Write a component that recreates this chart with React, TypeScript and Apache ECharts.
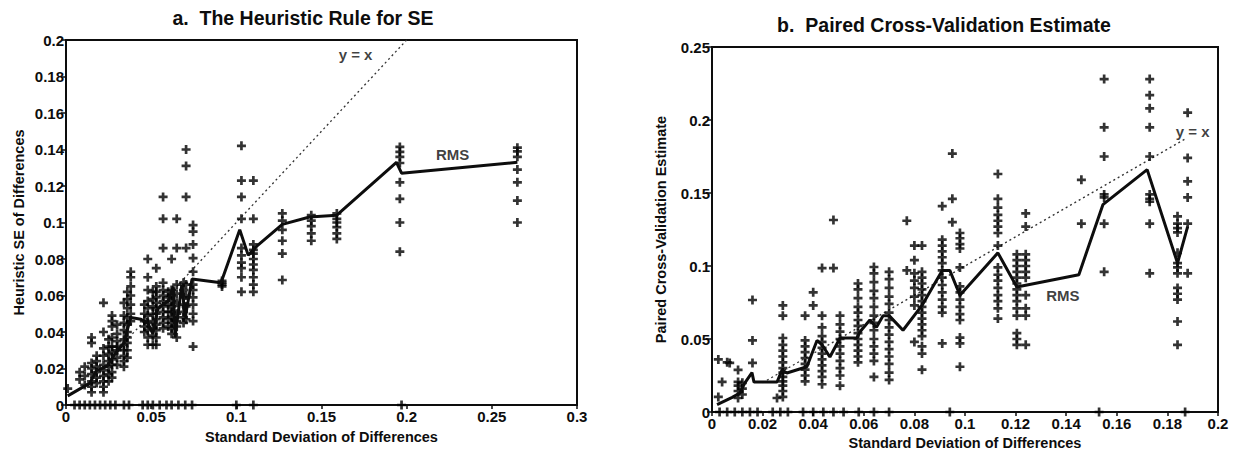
import React, { useEffect, useRef } from 'react';
import * as echarts from 'echarts';

// ---------- Panel a: The Heuristic Rule for SE ----------
const heuristicColumns: Array<[number, number[]]> = [
  [0.001, [0.009]],
  [0.008, [0.018, 0.014]],
  [0.011, [0.021, 0.016, 0.011]],
  [0.015, [0.037, 0.034, 0.023, 0.020, 0.017, 0.013, 0.010, 0.007]],
  [0.018, [0.027, 0.024, 0.021, 0.018, 0.015, 0.012]],
  [0.022, [0.056, 0.040, 0.031, 0.027, 0.022, 0.019, 0.016, 0.013, 0.010, 0.007]],
  [0.025, [0.036, 0.032, 0.028, 0.024, 0.021, 0.017, 0.013]],
  [0.027, [0.049, 0.046, 0.043, 0.037, 0.032, 0.029, 0.025, 0.022, 0.018, 0.015]],
  [0.030, [0.044, 0.039, 0.035, 0.032, 0.030, 0.026, 0.022]],
  [0.034, [0.056, 0.049, 0.045, 0.041, 0.036, 0.033, 0.030, 0.027, 0.024, 0.021]],
  [0.036, [0.062, 0.058, 0.053, 0.048, 0.044, 0.040, 0.037, 0.034, 0.030, 0.026]],
  [0.038, [0.073, 0.070, 0.065, 0.060, 0.055, 0.050, 0.046]],
  [0.046, [0.055, 0.050, 0.046, 0.043, 0.040]],
  [0.048, [0.080, 0.070, 0.063, 0.057, 0.053, 0.049, 0.045, 0.041, 0.037, 0.033]],
  [0.051, [0.062, 0.058, 0.054, 0.050, 0.046, 0.042, 0.038, 0.033]],
  [0.053, [0.075, 0.065, 0.062, 0.059, 0.056, 0.053, 0.050, 0.047, 0.044, 0.041, 0.037, 0.033]],
  [0.057, [0.114, 0.102, 0.086, 0.067, 0.063, 0.060, 0.057, 0.054, 0.051, 0.048, 0.045, 0.042]],
  [0.060, [0.062, 0.059, 0.055, 0.051, 0.047, 0.043]],
  [0.062, [0.080, 0.063, 0.060, 0.057, 0.054, 0.051, 0.048, 0.045, 0.042, 0.039]],
  [0.065, [0.102, 0.086, 0.066, 0.061, 0.056, 0.050, 0.046, 0.043, 0.037]],
  [0.069, [0.067, 0.063, 0.059, 0.055, 0.051, 0.048, 0.045]],
  [0.0705, [0.140, 0.131, 0.114, 0.086, 0.066, 0.060, 0.054, 0.047]],
  [0.0746, [0.0986, 0.095, 0.088, 0.0805, 0.073, 0.066, 0.063, 0.059, 0.055, 0.050, 0.046, 0.032]],
  [0.0916, [0.068, 0.067, 0.066, 0.065]],
  [0.103, [0.142, 0.123, 0.114, 0.102, 0.086, 0.082, 0.078, 0.075, 0.070, 0.062]],
  [0.110, [0.123, 0.102, 0.088, 0.085, 0.083, 0.080, 0.077, 0.074, 0.070, 0.066, 0.062]],
  [0.127, [0.105, 0.101, 0.096, 0.090, 0.083, 0.0685]],
  [0.144, [0.104, 0.101, 0.098, 0.094, 0.090]],
  [0.159, [0.105, 0.102, 0.100, 0.0975, 0.094, 0.091]],
  [0.196, [0.1414, 0.1387, 0.136, 0.1326, 0.122, 0.113, 0.100, 0.084]],
  [0.265, [0.141, 0.139, 0.136, 0.129, 0.122, 0.112, 0.100]],
];
const heuristicZeroX = [0.005, 0.008, 0.011, 0.014, 0.017, 0.020, 0.023, 0.026, 0.029, 0.034, 0.037,
  0.045, 0.048, 0.051, 0.055, 0.059, 0.062, 0.066, 0.070, 0.074, 0.100, 0.110, 0.197];
const heuristicRms: Array<[number, number]> = [
  [0.001, 0.005], [0.014, 0.012], [0.018, 0.019], [0.024, 0.021], [0.028, 0.027], [0.034, 0.034],
  [0.038, 0.048], [0.044, 0.047], [0.048, 0.045], [0.051, 0.039], [0.054, 0.053], [0.060, 0.057],
  [0.063, 0.065], [0.064, 0.037], [0.068, 0.066], [0.070, 0.048], [0.074, 0.069], [0.091, 0.067],
  [0.102, 0.096], [0.107, 0.082], [0.112, 0.087], [0.127, 0.099], [0.143, 0.103], [0.159, 0.104],
  [0.194, 0.133], [0.197, 0.127], [0.265, 0.133],
];
const heuristicDiagonal: Array<[number, number]> = [[0.033, 0.033], [0.2, 0.2]];
const heuristicLabels = [
  { name: 'y = x', value: [0.170, 0.192] },
  { name: 'RMS', value: [0.227, 0.1375] },
];

// ---------- Panel b: Paired Cross-Validation Estimate ----------
const pairedColumns: Array<[number, number[]]> = [
  [0.0025, [0.036, 0.0103]],
  [0.004, [0.0206]],
  [0.006, [0.034]],
  [0.007, [0.0336]],
  [0.0103, [0.0288, 0.0206, 0.018, 0.0144, 0.0096]],
  [0.012, [0.020, 0.016, 0.012]],
  [0.016, [0.0767, 0.049, 0.0336]],
  [0.0257, [0.0096]],
  [0.028, [0.073, 0.066, 0.0507, 0.046, 0.042, 0.038, 0.034, 0.030, 0.027, 0.024, 0.021, 0.018, 0.0144, 0.0103]],
  [0.0368, [0.066, 0.049, 0.045, 0.041, 0.037, 0.033, 0.029, 0.025, 0.021]],
  [0.040, [0.082, 0.073]],
  [0.0435, [0.0986, 0.066, 0.058, 0.052, 0.048, 0.044, 0.040, 0.036, 0.032, 0.028, 0.024, 0.019]],
  [0.048, [0.1315, 0.0986]],
  [0.0506, [0.066, 0.060, 0.055, 0.050, 0.045, 0.040, 0.035, 0.030, 0.025, 0.018]],
  [0.0577, [0.088, 0.084, 0.078, 0.072, 0.068, 0.063, 0.059, 0.054, 0.050, 0.046, 0.042, 0.038, 0.034]],
  [0.064, [0.0993, 0.095, 0.089, 0.083, 0.078, 0.072, 0.066, 0.061, 0.056, 0.050, 0.045, 0.040, 0.035, 0.024]],
  [0.070, [0.096, 0.091, 0.085, 0.079, 0.074, 0.068, 0.063, 0.058, 0.053, 0.048, 0.043, 0.038, 0.033, 0.027, 0.022]],
  [0.077, [0.131, 0.097]],
  [0.080, [0.114, 0.104, 0.095, 0.090, 0.085, 0.079, 0.073, 0.048]],
  [0.083, [0.114, 0.096, 0.092, 0.088, 0.084, 0.080, 0.076, 0.072, 0.068, 0.064, 0.060, 0.056, 0.052, 0.045, 0.040, 0.029]],
  [0.091, [0.141, 0.118, 0.114, 0.110, 0.106, 0.102, 0.097, 0.092, 0.087, 0.082, 0.077, 0.072, 0.068, 0.047]],
  [0.095, [0.177, 0.146, 0.130]],
  [0.098, [0.1226, 0.119, 0.115, 0.112, 0.099, 0.086, 0.082, 0.077, 0.072, 0.067, 0.063, 0.051, 0.047, 0.031]],
  [0.113, [0.163, 0.146, 0.140, 0.135, 0.131, 0.127, 0.1226, 0.114, 0.099, 0.094, 0.090, 0.085, 0.080, 0.076, 0.071, 0.064]],
  [0.1205, [0.108, 0.104, 0.100, 0.096, 0.092, 0.088, 0.084, 0.080, 0.076, 0.071, 0.066, 0.054, 0.050, 0.046]],
  [0.124, [0.136, 0.127, 0.108, 0.104, 0.100, 0.096, 0.092, 0.080, 0.071, 0.066, 0.046]],
  [0.146, [0.159, 0.129]],
  [0.155, [0.228, 0.195, 0.175, 0.149, 0.147, 0.129, 0.096]],
  [0.173, [0.228, 0.217, 0.208, 0.195, 0.175, 0.149, 0.146, 0.144, 0.129, 0.095]],
  [0.184, [0.134, 0.129, 0.126, 0.123, 0.109, 0.102, 0.099, 0.095, 0.085, 0.081, 0.077, 0.062, 0.046]],
  [0.188, [0.205, 0.174, 0.158, 0.147, 0.129, 0.095]],
];
const pairedZeroX = [0.003, 0.006, 0.009, 0.012, 0.015, 0.018, 0.024, 0.027, 0.030, 0.036, 0.040,
  0.044, 0.048, 0.052, 0.058, 0.064, 0.070, 0.094, 0.153, 0.187];
const pairedRms: Array<[number, number]> = [
  [0.002, 0.005], [0.008, 0.010], [0.011, 0.013], [0.013, 0.020], [0.0158, 0.027], [0.0166, 0.0205],
  [0.0257, 0.0205], [0.0277, 0.0288], [0.0296, 0.0267], [0.0375, 0.031], [0.0415, 0.049], [0.0435, 0.046],
  [0.0466, 0.0377], [0.0506, 0.0507], [0.0573, 0.0507], [0.0585, 0.055], [0.0624, 0.063], [0.065, 0.058],
  [0.0676, 0.066], [0.070, 0.066], [0.0755, 0.056], [0.083, 0.073], [0.091, 0.097], [0.094, 0.097],
  [0.098, 0.080], [0.113, 0.109], [0.1205, 0.0856], [0.145, 0.094], [0.1545, 0.142], [0.172, 0.166],
  [0.184, 0.102], [0.188, 0.127],
];
const pairedDiagonal: Array<[number, number]> = [[0.02, 0.02], [0.187, 0.187]];
const pairedLabels = [
  { name: 'y = x', value: [0.190, 0.192] },
  { name: 'RMS', value: [0.1387, 0.080] },
];

const xAxisName = 'Standard Deviation of Differences';

const FONT = '"Liberation Sans", Arial, Helvetica, sans-serif';
const INK = '#0d0d0d';
const PLUS = 'path://M3.5,0h3v3.5h3.5v3h-3.5v3.5h-3v-3.5h-3.5v-3h3.5z';

function points(cols: Array<[number, number[]]>, zeros: number[]) {
  const pts: number[][] = [];
  cols.forEach(([x, ys]) => ys.forEach((y) => pts.push([x, y])));
  zeros.forEach((x) => pts.push([x, 0]));
  return pts;
}

const nameStyle = { fontFamily: FONT, fontSize: 14.5, fontWeight: 'bold', color: INK };
const tickLabelStyle = { fontFamily: FONT, fontSize: 15, fontWeight: 'bold', color: INK };

function xAxis(grid: number, max: number, interval: number, nameGap: number) {
  return {
    type: 'value', gridIndex: grid, min: 0, max, interval,
    name: xAxisName, nameLocation: 'middle', nameGap,
    nameTextStyle: nameStyle,
    axisLine: { show: true, lineStyle: { color: INK, width: 2 } },
    axisTick: { show: true, length: 4, lineStyle: { color: INK, width: 1.5 } },
    axisLabel: { ...tickLabelStyle, margin: 4 },
    splitLine: { show: false },
  };
}
function yAxis(grid: number, max: number, interval: number, name: string, nameGap: number) {
  return {
    type: 'value', gridIndex: grid, min: 0, max, interval,
    name, nameLocation: 'middle', nameGap,
    nameTextStyle: nameStyle,
    axisLine: { show: true, lineStyle: { color: INK, width: 2 } },
    axisTick: { show: true, length: 5, lineStyle: { color: INK, width: 1.5 } },
    axisLabel: { ...tickLabelStyle, margin: 2 },
    splitLine: { show: false },
  };
}

function panelSeries(idx: number, pts: number[][], rms: Array<[number, number]>, diag: Array<[number, number]>, labels: any[]) {
  return [
    {
      type: 'scatter', xAxisIndex: idx, yAxisIndex: idx, data: pts, symbol: PLUS, symbolSize: 9,
      itemStyle: { color: '#000' }, clip: false, z: 3,
    },
    {
      type: 'line', xAxisIndex: idx, yAxisIndex: idx, data: diag, symbol: 'none',
      lineStyle: { color: '#333', width: 1.3, type: [2, 3] }, z: 2,
    },
    {
      type: 'line', xAxisIndex: idx, yAxisIndex: idx, data: rms, symbol: 'none',
      lineStyle: { color: INK, width: 3 }, z: 4,
    },
    {
      type: 'scatter', xAxisIndex: idx, yAxisIndex: idx, data: labels, symbolSize: 1,
      itemStyle: { color: 'rgba(0,0,0,0)' }, z: 5,
      label: {
        show: true, position: 'inside', formatter: '{b}',
        fontFamily: FONT, fontSize: 15, fontWeight: 'bold', color: INK,
      },
    },
  ];
}

export default function App() {
  const ref = useRef<HTMLDivElement>(null);
  useEffect(() => {
    const chart = echarts.init(ref.current!, null, { renderer: 'svg' });
    chart.setOption({
      animation: false,
      backgroundColor: '#ffffff',
      title: [
        {
          text: 'a.  The Heuristic Rule for SE', left: 298, top: 3, textAlign: 'center',
          textStyle: { fontFamily: FONT, fontSize: 19.5, fontWeight: 'bold', color: INK },
        },
        {
          text: 'b.  Paired Cross-Validation Estimate', left: 939, top: 10, textAlign: 'center',
          textStyle: { fontFamily: FONT, fontSize: 19.5, fontWeight: 'bold', color: INK },
        },
      ],
      grid: [
        { left: 66, top: 40, width: 511, height: 365, show: true, borderColor: INK, borderWidth: 2, backgroundColor: 'transparent' },
        { left: 712, top: 47, width: 506, height: 365, show: true, borderColor: INK, borderWidth: 2, backgroundColor: 'transparent' },
      ],
      xAxis: [xAxis(0, 0.3, 0.05, 24), xAxis(1, 0.2, 0.02, 22)],
      yAxis: [
        yAxis(0, 0.2, 0.02, 'Heuristic SE of Differences', 40),
        yAxis(1, 0.25, 0.05, 'Paired Cross-Validation Estimate', 44),
      ],
      series: [
        ...panelSeries(0, points(heuristicColumns, heuristicZeroX), heuristicRms, heuristicDiagonal, heuristicLabels),
        ...panelSeries(1, points(pairedColumns, pairedZeroX), pairedRms, pairedDiagonal, pairedLabels),
      ],
    });
    return () => chart.dispose();
  }, []);
  return (
    <div
      ref={ref}
      style={{ position: 'absolute', left: 0, top: 0, width: 1250, height: 457, background: '#fff' }}
    />
  );
}
